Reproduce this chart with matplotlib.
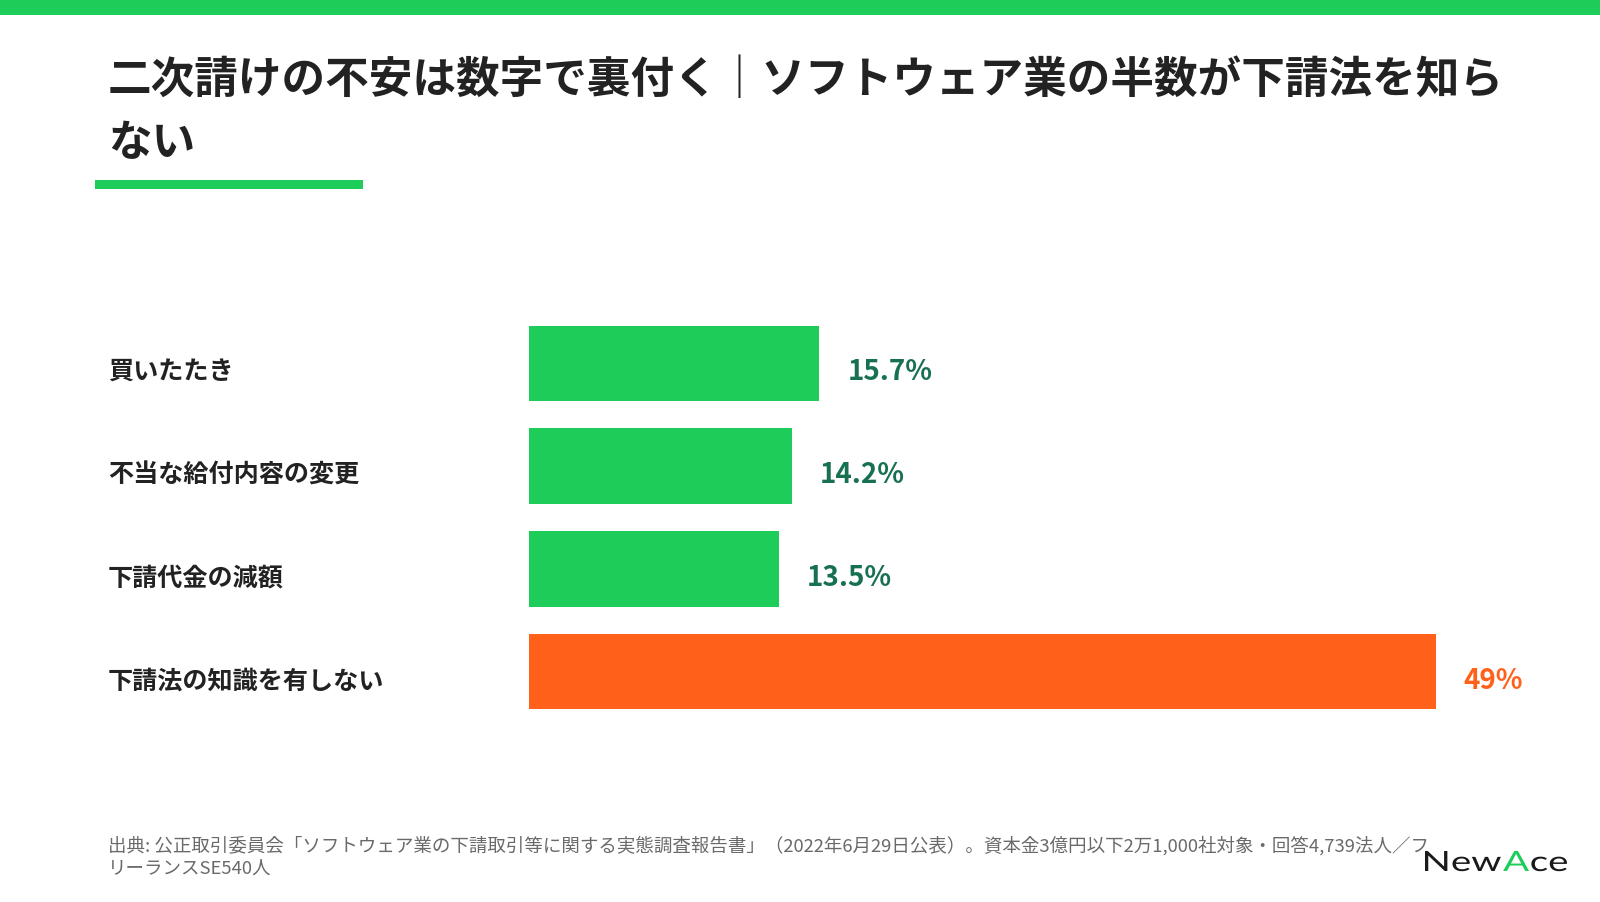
import matplotlib
matplotlib.use("Agg")
import matplotlib.pyplot as plt
from matplotlib.patches import Rectangle, PathPatch
from matplotlib.textpath import TextPath
from matplotlib.font_manager import FontProperties
from matplotlib.transforms import Affine2D, IdentityTransform, blended_transform_factory, ScaledTranslation

# ---- data ----
categories = ["買いたたき", "不当な給付内容の変更", "下請代金の減額", "下請法の知識を有しない"]
values = [15.7, 14.2, 13.5, 49]
value_labels = ["15.7%", "14.2%", "13.5%", "49%"]
highlight = [False, False, False, True]
title_lines = ["二次請けの不安は数字で裏付く｜ソフトウェア業の半数が下請法を知ら", "ない"]
footer_lines = ["出典: 公正取引委員会「ソフトウェア業の下請取引等に関する実態調査報告書」（2022年6月29日公表）。資本金3億円以下2万1,000社対象・回答4,739法人／フ",
                "リーランスSE540人"]

GREEN = "#1ECC5A"
DARKGREEN = "#17704F"
ORANGE = "#FF611A"
TEXT = "#222222"
GRAY = "#6a6a6a"

W, H = 1600, 903
plt.rcParams['font.family'] = ['Noto Sans CJK JP', 'DejaVu Sans']
fig = plt.figure(figsize=(W / 100, H / 100), dpi=100)
fig.patch.set_facecolor("white")

def fx(px):
    return px / W

def fy(py):
    return 1 - py / H

# top band
fig.add_artist(Rectangle((0, fy(16)), 1, 16 / H, transform=fig.transFigure, color=GREEN, lw=0))
# underline
fig.add_artist(Rectangle((fx(95), fy(190)), (363 - 95) / W, 9 / H, transform=fig.transFigure, color=GREEN, lw=0))

# title
fig.text(fx(108), fy(80), title_lines[0], fontsize=31.4, fontweight='bold', color=TEXT, va='center', ha='left')
fig.text(fx(108), fy(143), title_lines[1], fontsize=31.4, fontweight='bold', color=TEXT, va='center', ha='left')

# bars axes
unit = 18.5  # px per percent
xmax = 55
spacing = 102.7
left_px = 529
top_px = 364.5 - spacing / 2
ax_h = spacing * len(categories)
ax = fig.add_axes([fx(left_px), fy(top_px + ax_h), xmax * unit / W, ax_h / H])
ax.set_xlim(0, xmax)
ax.set_ylim(len(categories) - 0.5, -0.5)
ax.axis('off')
ypos = list(range(len(categories)))
colors = [ORANGE if h else GREEN for h in highlight]
ax.barh(ypos, values, height=0.735, color=colors, lw=0)

lab_tr = blended_transform_factory(fig.transFigure, ax.transData)
for i, (cat, v, vl, h) in enumerate(zip(categories, values, value_labels, highlight)):
    off = ScaledTranslation(0, -8 / 100, fig.dpi_scale_trans)
    ax.text(fx(108), i, cat, transform=lab_tr + off, fontsize=18.1, fontweight='bold',
            color=TEXT, va='center', ha='left')
    off2 = ScaledTranslation(28 / 100, -8 / 100, fig.dpi_scale_trans)
    ax.text(v, i, vl, transform=ax.transData + off2, fontsize=20, fontweight='bold',
            color=ORANGE if h else DARKGREEN, va='center', ha='left')

# footer
fig.text(fx(108), fy(846), footer_lines[0], fontsize=13.3, color=GRAY, va='center', ha='left')
fig.text(fx(108), fy(869), footer_lines[1], fontsize=13.3, color=GRAY, va='center', ha='left')

# logo
prop = FontProperties(family='Lato', weight='normal')
pieces = [("New", "#1a1a1a"), ("A", GREEN), ("ce", "#1a1a1a")]
paths = []
xcur = 0
gap = 6
for s, c in pieces:
    p = TextPath((0, 0), s, size=100, prop=prop)
    ext = p.get_extents()
    p = p.transformed(Affine2D().translate(xcur - ext.x0, 0))
    paths.append((p, c))
    xcur += ext.width + gap
total_w = xcur - gap
capN = TextPath((0, 0), "N", size=100, prop=prop).get_extents().height
box_x0, box_x1, box_top, box_bot = 1425, 1567, 852, 872
sx = (box_x1 - box_x0) / total_w
sy = (box_bot - box_top) / capN
for p, c in paths:
    tp = p.transformed(Affine2D().scale(sx, sy).translate(box_x0, H - box_bot))
    fig.add_artist(PathPatch(tp, transform=IdentityTransform(), color=c, lw=0))

fig.savefig("out.png", dpi=100, facecolor="white")
